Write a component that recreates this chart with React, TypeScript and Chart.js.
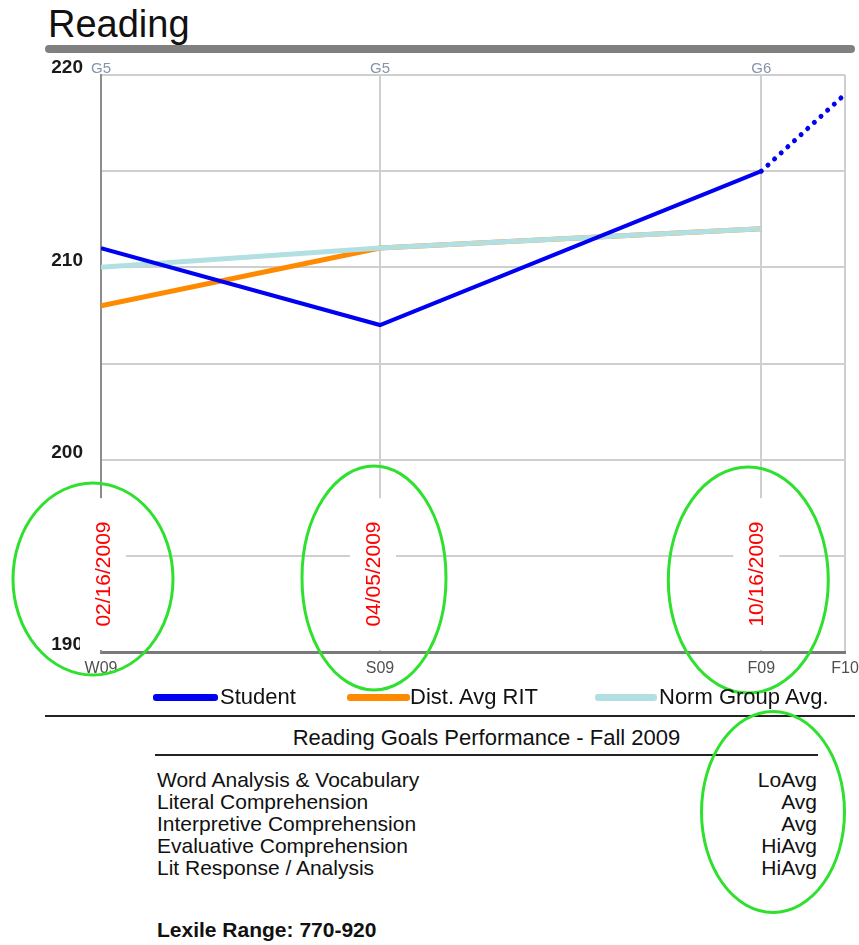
import React, { useEffect, useRef } from 'react';
import { Chart, registerables } from 'chart.js';

Chart.register(...registerables);

// ---------- data ----------
const termLabels = ['W09', 'S09', 'F09', 'F10'];
const gradeLabels = ['G5', 'G5', 'G6', ''];
const termPositions = [0, 3, 7.1, 8];
const testDates = ['02/16/2009', '04/05/2009', '10/16/2009'];
const studentRit = [211, 207, 215];
const projectedRit = [215, 219];
const distAvgRit = [208, 211, 212];
const normGroupAvg = [210, 211, 212];
const yMin = 190;
const yMax = 220;
const yStep = 5;
const goalNames = [
  'Word Analysis & Vocabulary',
  'Literal Comprehension',
  'Interpretive Comprehension',
  'Evaluative Comprehension',
  'Lit Response / Analysis',
];
const goalLevels = ['LoAvg', 'Avg', 'Avg', 'HiAvg', 'HiAvg'];
const lexileRange = '770-920';

// ---------- styles ----------
const FONT = '"Liberation Sans", Arial, Helvetica, sans-serif';
const BLUE = '#0000f2';
const ORANGE = '#ff8a00';
const NORM = '#b2dfe2';
const GRID = '#cfcfcf';
const GREEN = '#2fe02f';
const CANVAS_TOP = 55;

// annotation shapes (hand-drawn highlights), relative to each test's grid line
const dateShift = [2, -7, -5];
const ellipseShapes = [
  { dx: -8, dy: 73, rx: 80, ry: 96 },
  { dx: -6, dy: 74, rx: 72, ry: 112 },
  { dx: -13, dy: 72, rx: 80, ry: 113 },
];

const pts = (ys: number[], offset = 0) =>
  ys.map((y, i) => ({ x: termPositions[i + offset], y }));

const notesPlugin = {
  id: 'dateNotes',
  afterDraw(chart: any) {
    const { ctx, chartArea, scales } = chart;
    const xs = scales.x;
    const ys = scales.y;
    const top = ys.getPixelForValue(198);
    const bottom = chartArea.bottom - 2;
    ctx.save();
    testDates.forEach((d, i) => {
      const gx = xs.getPixelForValue(termPositions[i]);
      const cx = gx + dateShift[i];
      ctx.fillStyle = '#ffffff';
      ctx.fillRect(cx - 23, top, 46, bottom - top);
      ctx.save();
      ctx.translate(cx, (top + bottom) / 2);
      ctx.rotate(-Math.PI / 2);
      ctx.fillStyle = '#ff0000';
      ctx.font = `21px ${FONT}`;
      ctx.textAlign = 'center';
      ctx.textBaseline = 'middle';
      ctx.fillText(d, 0, 1);
      ctx.restore();
    });
    testDates.forEach((_, i) => {
      const gx = xs.getPixelForValue(termPositions[i]);
      const s = ellipseShapes[i];
      ctx.beginPath();
      ctx.ellipse(gx + s.dx, chartArea.bottom - s.dy, s.rx, s.ry, 0, 0, Math.PI * 2);
      ctx.strokeStyle = GREEN;
      ctx.lineWidth = 3;
      ctx.stroke();
    });
    ctx.restore();
  },
};

function ChartCanvas() {
  const ref = useRef<HTMLCanvasElement | null>(null);
  useEffect(() => {
    if (!ref.current) return;
    const setTicks = (scale: any) => {
      scale.ticks = termPositions.map((v) => ({ value: v }));
    };
    const chart = new Chart(ref.current, {
      type: 'line',
      data: {
        datasets: [
          {
            label: 'Student',
            data: pts(studentRit),
            borderColor: BLUE,
            borderWidth: 4,
            pointRadius: 0,
            tension: 0,
            order: 0,
          },
          {
            label: 'Projection',
            data: pts(projectedRit, 2),
            borderColor: BLUE,
            borderWidth: 5,
            borderDash: [0.01, 9],
            borderCapStyle: 'round',
            pointRadius: 0,
            order: 1,
          },
          {
            label: 'Norm Group Avg.',
            data: pts(normGroupAvg),
            borderColor: NORM,
            borderWidth: 5,
            pointRadius: 0,
            order: 2,
          },
          {
            label: 'Dist. Avg RIT',
            data: pts(distAvgRit),
            borderColor: ORANGE,
            borderWidth: 5,
            pointRadius: 0,
            order: 3,
          },
        ],
      },
      options: {
        animation: false,
        responsive: false,
        maintainAspectRatio: false,
        layout: { padding: { left: 0, right: 14, top: 0, bottom: 0 } },
        plugins: { legend: { display: false }, tooltip: { enabled: false } },
        scales: {
          x: {
            type: 'linear',
            position: 'bottom',
            min: termPositions[0],
            max: termPositions[termPositions.length - 1],
            afterBuildTicks: setTicks,
            afterFit: (s: any) => {
              s.height = 43;
              s.paddingLeft = 0;
              s.paddingRight = 0;
            },
            grid: {
              color: (c: any) => (c.index === 0 ? 'rgba(0,0,0,0)' : GRID),
              lineWidth: 2,
              drawTicks: false,
            },
            border: { color: '#7a7a7a', width: 3 },
            ticks: {
              autoSkip: false,
              maxRotation: 0,
              minRotation: 0,
              padding: 7,
              color: '#505050',
              font: { family: FONT, size: 16 },
              callback: (_v: any, i: number) => termLabels[i],
            },
          },
          x2: {
            type: 'linear',
            position: 'top',
            min: termPositions[0],
            max: termPositions[termPositions.length - 1],
            afterBuildTicks: setTicks,
            afterFit: (s: any) => {
              s.height = 20;
              s.paddingLeft = 0;
              s.paddingRight = 0;
            },
            grid: { display: false, drawTicks: false },
            border: { display: false },
            ticks: {
              autoSkip: false,
              maxRotation: 0,
              minRotation: 0,
              padding: -3,
              color: '#8494aa',
              font: { family: FONT, size: 15 },
              callback: (_v: any, i: number) => gradeLabels[i],
            },
          },
          y: {
            type: 'linear',
            min: yMin,
            max: yMax,
            afterFit: (s: any) => {
              s.width = 101;
              s.paddingTop = 0;
              s.paddingBottom = 0;
            },
            grid: {
              color: (c: any) => (c.tick && c.tick.value === yMin ? 'rgba(0,0,0,0)' : GRID),
              lineWidth: 2,
              drawTicks: false,
            },
            border: { color: '#8c8c8c', width: 2 },
            ticks: {
              stepSize: yStep,
              padding: 18,
              labelOffset: -7,
              color: '#1a1a1a',
              font: { family: FONT, size: 19, weight: 'bold' },
              callback: (v: any) => (Number(v) % 10 === 0 ? String(v) : ''),
            },
          },
        },
      },
      plugins: [notesPlugin],
    } as any);
    return () => chart.destroy();
  }, []);
  return (
    <canvas
      ref={ref}
      width={859}
      height={640}
      style={{ position: 'absolute', left: 0, top: CANVAS_TOP, width: 859, height: 640 }}
    />
  );
}

const abs = (extra: React.CSSProperties): React.CSSProperties => ({
  position: 'absolute',
  fontFamily: FONT,
  color: '#111',
  whiteSpace: 'nowrap',
  ...extra,
});

export default function App() {
  const legendItems = [
    { label: 'Student', color: BLUE, sx: 153, sw: 65, tx: 220 },
    { label: 'Dist. Avg RIT', color: ORANGE, sx: 347, sw: 63, tx: 410 },
    { label: 'Norm Group Avg.', color: NORM, sx: 595, sw: 62, tx: 659 },
  ];
  return (
    <div
      style={{
        position: 'absolute',
        left: 0,
        top: 0,
        width: 859,
        height: 945,
        background: '#fff',
        overflow: 'hidden',
      }}
    >
      <div style={abs({ left: 48, top: 5, fontSize: 38, lineHeight: '38px' })}>Reading</div>
      <div
        style={{
          position: 'absolute',
          left: 45,
          top: 45,
          width: 810,
          height: 8,
          background: '#808080',
          borderRadius: 4,
        }}
      />
      <ChartCanvas />
      {legendItems.map((it) => (
        <React.Fragment key={it.label}>
          <div
            style={{
              position: 'absolute',
              left: it.sx,
              top: 694,
              width: it.sw,
              height: 7,
              background: it.color,
              borderRadius: 3,
            }}
          />
          <div style={abs({ left: it.tx, top: 686, fontSize: 22, lineHeight: '22px' })}>{it.label}</div>
        </React.Fragment>
      ))}
      <div style={{ position: 'absolute', left: 45, top: 715, width: 810, height: 2, background: '#222' }} />
      <div
        style={abs({ left: 155, top: 727, width: 663, textAlign: 'center', fontSize: 22, lineHeight: '22px' })}
      >
        Reading Goals Performance - Fall 2009
      </div>
      <div style={{ position: 'absolute', left: 155, top: 754, width: 663, height: 2, background: '#222' }} />
      {goalNames.map((g, i) => (
        <React.Fragment key={g}>
          <div style={abs({ left: 157, top: 769 + i * 22, fontSize: 21, lineHeight: '22px' })}>{g}</div>
          <div
            style={abs({ left: 617, width: 200, textAlign: 'right', top: 769 + i * 22, fontSize: 21, lineHeight: '22px' })}
          >
            {goalLevels[i]}
          </div>
        </React.Fragment>
      ))}
      <div style={abs({ left: 157, top: 919, fontSize: 21, lineHeight: '22px', fontWeight: 'bold' })}>
        {`Lexile Range: ${lexileRange}`}
      </div>
      <div
        style={{
          position: 'absolute',
          left: 700,
          top: 710,
          width: 146,
          height: 204,
          border: `3px solid ${GREEN}`,
          borderRadius: '50%',
          boxSizing: 'border-box',
        }}
      />
    </div>
  );
}
